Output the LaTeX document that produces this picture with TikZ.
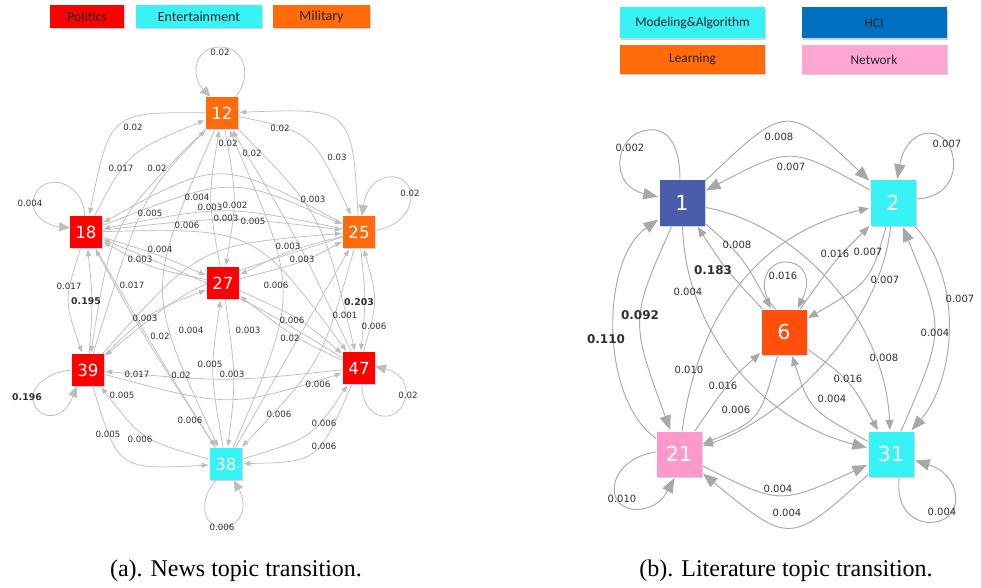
\documentclass[tikz,border=0pt]{standalone}
\usepackage{fontspec}
\setmainfont{Liberation Serif}
\newfontfamily\numfont{DejaVu Sans}
\newfontfamily\keyfont{Carlito}
\usetikzlibrary{arrows.meta,shadows}
\pgfdeclarelayer{links}
\pgfsetlayers{links,main}
\definecolor{polred}{HTML}{FF0000}
\definecolor{entcyan}{HTML}{38F3F6}
\definecolor{milorange}{HTML}{FF6A0A}
\definecolor{hciblue}{HTML}{0070C0}
\definecolor{slateblue}{HTML}{4A5DAD}
\definecolor{sixorange}{HTML}{FF4F0A}
\definecolor{netpink}{HTML}{FFA6D5}
\definecolor{pinknode}{HTML}{FF99CC}
\definecolor{linkA}{HTML}{BDBDBD}
\definecolor{linkB}{HTML}{A8A8A8}
\definecolor{numtext}{HTML}{2F2F2F}
\definecolor{keytext}{HTML}{262626}
\definecolor{shade}{HTML}{CACCE8}
\begin{document}
\begin{tikzpicture}[x=0.75pt,y=-0.75pt,
  key/.style={rectangle,inner sep=0pt,minimum height=17.25pt,
    font=\keyfont\fontsize{10.5}{12}\selectfont,text=keytext,
    drop shadow={shadow xshift=1pt,shadow yshift=-1pt,fill=shade,opacity=0.9}},
  keyb/.style={key,minimum height=23.25pt,minimum width=108.75pt,
    font=\keyfont\fontsize{10}{12}\selectfont},
  topa/.style={rectangle,inner sep=0pt,minimum size=24pt,
    font=\numfont\fontsize{12.5}{14}\selectfont,text=white,
    drop shadow={shadow xshift=0.8pt,shadow yshift=-0.8pt,fill=shade,opacity=0.9}},
  topb/.style={topa,minimum size=33.75pt,font=\numfont\fontsize{15.5}{17}\selectfont},
  lnka/.style={draw=linkA,line width=0.55pt,-{Triangle[length=5pt,width=3.8pt]},shorten >=1pt},
  loopa/.style={draw=linkA,line width=0.55pt,-{Triangle[length=8pt,width=7pt]}},
  lnkb/.style={draw=linkB,line width=0.7pt,-{Triangle[length=7.5pt,width=6pt]},shorten >=1pt},
  bigb/.style={lnkb,-{Triangle[length=11pt,width=8.5pt]}},
  wa/.style={font=\numfont\fontsize{6.5}{7}\selectfont,text=numtext,inner sep=0pt},
  wab/.style={wa,font=\numfont\bfseries\fontsize{7}{8}\selectfont},
  wb/.style={wa,font=\numfont\fontsize{7.5}{9}\selectfont},
  wbb/.style={wa,font=\numfont\bfseries\fontsize{9}{10}\selectfont},
  caption/.style={font=\fontsize{18}{21}\selectfont,inner sep=0pt}]
\useasboundingbox (0,0) rectangle (981,588);

% ---------- legends ----------
\node[key,fill=polred,minimum width=55.5pt] (kpol) at (87,16.5) {Politics};
\node[key,fill=entcyan,minimum width=94.5pt] (kent) at (199,16.5) {Entertainment};
\node[key,fill=milorange,minimum width=72.75pt] (kmil) at (321.5,16.5) {Military};
\node[keyb,fill=entcyan] (kmod) at (692.5,23) {Modeling\&Algorithm};
\node[keyb,fill=hciblue] (khci) at (874,23) {HCI};
\node[keyb,fill=milorange,minimum height=21.75pt] (klea) at (692.5,59.5) {Learning};
\node[keyb,fill=netpink,minimum height=21.75pt] (knet) at (874,59.5) {Network};

% ---------- news topics ----------
\node[topa,fill=milorange] (A12) at (222,113) {12};
\node[topa,fill=polred] (A18) at (86,232) {18};
\node[topa,fill=milorange] (A25) at (359,232) {25};
\node[topa,fill=polred] (A27) at (223,283) {27};
\node[topa,fill=polred] (A39) at (88,370) {39};
\node[topa,fill=polred] (A47) at (359,368) {47};
\node[topa,fill=entcyan] (A38) at (226,464) {38};

% ---------- literature topics ----------
\node[topb,fill=slateblue] (B1) at (682,203) {1};
\node[topb,fill=entcyan] (B2) at (893,203) {2};
\node[topb,fill=sixorange] (B6) at (784,332) {6};
\node[topb,fill=pinknode] (B21) at (679,454) {21};
\node[topb,fill=entcyan] (B31) at (891,454) {31};

\begin{pgfonlayer}{links}
% news transitions
\draw[lnka] (A12) .. controls (110,112) .. (A18);
\draw[lnka] (A18) .. controls (128,152) .. (A12);
\draw[lnka] (A12) .. controls (112,222) .. (A39);
\draw[lnka] (A39) .. controls (142,196) .. (A12);
\draw[lnka] (A12) .. controls (312,132) .. (A25);
\draw[lnka] (A25) .. controls (352,108) .. (A12);
\draw[lnka] (A12) .. controls (237,198) .. (A27);
\draw[lnka] (A27) .. controls (208,198) .. (A12);
\draw[lnka] (A12) .. controls (145,290) .. (A38);
\draw[lnka] (A38) .. controls (300,292) .. (A12);
\draw[lnka] (A47) .. controls (296,236) .. (A12);
\draw[lnka] (A12) .. controls (322,214) .. (A47);
\draw[lnka] (A25) .. controls (220,158) .. (A18);
\draw[lnka] (A18) .. controls (232,175) .. (A25);
\draw[lnka] (A25) .. controls (225,205) .. (A18);
\draw[lnka] (A18) .. controls (228,216) .. (A25);
\draw[lnka] (A18) .. controls (160,255) .. (A27);
\draw[lnka] (A27) .. controls (150,268) .. (A18);
\draw[lnka] (A18) .. controls (255,228) .. (A47);
\draw[lnka] (A47) .. controls (248,300) .. (A18);
\draw[lnka] (A18) .. controls (64,300) .. (A39);
\draw[lnka] (A39) .. controls (93,300) .. (A18);
\draw[lnka] (A38) .. controls (140,330) .. (A18);
\draw[lnka] (A18) .. controls (162,362) .. (A38);
\draw[lnka] (A25) .. controls (290,250) .. (A27);
\draw[lnka] (A27) .. controls (305,262) .. (A25);
\draw[lnka] (A25) .. controls (190,285) .. (A39);
\draw[lnka] (A39) .. controls (150,312) .. (A27);
\draw[lnka] (A39) .. controls (200,245) .. (A25);
\draw[lnka] (A27) .. controls (300,318) .. (A47);
\draw[lnka] (A47) .. controls (295,338) .. (A27);
\draw[lnka] (A27) .. controls (236,378) .. (A38);
\draw[lnka] (A38) .. controls (210,372) .. (A27);
\draw[lnka] (A39) .. controls (230,408) .. (A47);
\draw[lnka] (A47) .. controls (228,382) .. (A39);
\draw[lnka] (A38) .. controls (300,335) .. (A25);
\draw[lnka] (A25) .. controls (322,362) .. (A38);
\draw[lnka] (A47) .. controls (378,300) .. (A25);
\draw[lnka] (A25) .. controls (366,300) .. (A47);
\draw[lnka] (A38) .. controls (312,438) .. (A47);
\draw[lnka] (A47) .. controls (318,462) .. (A38);
\draw[lnka] (A39) .. controls (118,470) .. (A38);
\draw[lnka] (A38) .. controls (142,440) .. (A39);
% news self transitions
\draw[loopa] (A12.50) .. controls (252,78) and (246,47) .. (220,47)
  .. controls (194,47) and (190,76) .. (A12.125);
\draw[loopa] (A18.95) .. controls (84,180) and (40,170) .. (33,200)
  .. controls (30,215) and (48,226) .. (A18.165);
\draw[loopa] (A25.5) .. controls (420,222) and (418,180) .. (395,177)
  .. controls (378,175) and (366,188) .. (A25.80);
\draw[loopa] (A39.180) .. controls (45,372) and (30,390) .. (33,400)
  .. controls (36,418) and (62,425) .. (A39.235);
\draw[loopa] (A47.-80) .. controls (362,410) and (378,420) .. (392,415)
  .. controls (412,405) and (412,375) .. (A47.5);
\draw[loopa] (A38.-120) .. controls (200,495) and (200,527) .. (222,527)
  .. controls (242,527) and (248,505) .. (A38.-65);

% literature transitions
\draw[bigb] (B1) .. controls (787,103) .. (B2);
\draw[bigb] (B2) .. controls (791,146) .. (B1);
\draw[lnkb] (B1) .. controls (800,225) and (885,320) .. (B31);
\draw[bigb] (B1) .. controls (685,330) and (760,420) .. (B31);
\draw[lnkb] (B1) .. controls (742,256) .. (B6);
\draw[lnkb] (B6) .. controls (726,270) .. (B1);
\draw[bigb] (B1) .. controls (630,320) .. (B21);
\draw[bigb] (B21) .. controls (600,400) and (600,260) .. (B1);
\draw[lnkb] (B21) .. controls (700,300) and (770,230) .. (B2);
\draw[lnkb] (B2) .. controls (880,330) and (780,420) .. (B21);
\draw[lnkb] (B6) .. controls (835,260) .. (B2);
\draw[lnkb] (B2) .. controls (870,282) .. (B6);
\draw[bigb] (B2) .. controls (965,280) and (955,380) .. (B31);
\draw[bigb] (B31) .. controls (945,330) .. (B2);
\draw[lnkb] (B6) .. controls (850,380) .. (B31);
\draw[lnkb] (B31) .. controls (810,410) .. (B6);
\draw[lnkb] (B21) .. controls (730,380) .. (B6);
\draw[lnkb] (B6) .. controls (760,420) .. (B21);
\draw[bigb] (B21) .. controls (780,505) .. (B31);
\draw[bigb] (B31) .. controls (790,545) .. (B21);
% literature self transitions
\draw[bigb] (B1.95) .. controls (680,140) and (665,128) .. (648,130)
  .. controls (620,133) and (612,168) .. (628,185)
  .. controls (635,192) and (645,194) .. (B1.165);
\draw[bigb] (B2.10) .. controls (955,198) and (962,160) .. (945,140)
  .. controls (930,125) and (905,135) .. (B2.80);
\draw[lnkb] (B6.110) .. controls (755,290) and (765,262) .. (785,262)
  .. controls (805,262) and (812,280) .. (B6.60);
\draw[bigb] (B21.175) .. controls (630,455) and (610,475) .. (615,495)
  .. controls (620,515) and (655,515) .. (B21.-100);
\draw[bigb] (B31.-70) .. controls (895,510) and (915,525) .. (935,522)
  .. controls (965,518) and (962,475) .. (B31.-15);
\end{pgfonlayer}

% ---------- news probabilities ----------
\node[wa] (va01) at (220,52) {0.02};
\node[wa] (va02) at (133,127) {0.02};
\node[wa] (va03) at (121,168) {0.017};
\node[wa] (va04) at (157,168) {0.02};
\node[wa] (va05) at (30,203) {0.004};
\node[wa] (va06) at (197,197) {0.004};
\node[wa] (va07) at (210,207) {0.003};
\node[wa] (va08) at (235,205) {0.002};
\node[wa] (va09) at (226,218) {0.003};
\node[wa] (va10) at (150,213) {0.005};
\node[wa] (va11) at (187,225) {0.006};
\node[wa] (va12) at (160,249) {0.004};
\node[wa] (va13) at (140,259) {0.003};
\node[wa] (va14) at (69,286) {0.017};
\node[wab] (va15) at (86,301) {0.195};
\node[wa] (va16) at (132,285) {0.017};
\node[wa] (va17) at (228,143) {0.02};
\node[wa] (va18) at (252,153) {0.02};
\node[wa] (va19) at (280,128) {0.02};
\node[wa] (va20) at (337,157) {0.03};
\node[wa] (va21) at (313,199) {0.003};
\node[wa] (va22) at (410,193) {0.02};
\node[wa] (va23) at (253,221) {0.005};
\node[wa] (va24) at (288,246) {0.003};
\node[wa] (va25) at (302,259) {0.003};
\node[wa] (va26) at (276,285) {0.006};
\node[wa] (va27) at (145,318) {0.003};
\node[wa] (va28) at (160,336) {0.02};
\node[wa] (va29) at (191,330) {0.004};
\node[wa] (va30) at (248,330) {0.003};
\node[wa] (va31) at (292,320) {0.006};
\node[wa] (va32) at (290,338) {0.02};
\node[wab] (va33) at (359,302) {0.203};
\node[wa] (va34) at (345,315) {0.001};
\node[wa] (va35) at (374,326) {0.006};
\node[wa] (va36) at (210,364) {0.005};
\node[wa] (va37) at (232,374) {0.003};
\node[wa] (va38) at (137,374) {0.017};
\node[wa] (va39) at (181,375) {0.02};
\node[wa] (va40) at (318,384) {0.006};
\node[wab] (va41) at (27,397) {0.196};
\node[wa] (va42) at (122,395) {0.005};
\node[wa] (va43) at (408,395) {0.02};
\node[wa] (va44) at (190,420) {0.006};
\node[wa] (va45) at (279,414) {0.006};
\node[wa] (va46) at (324,423) {0.006};
\node[wa] (va47) at (108,434) {0.005};
\node[wa] (va48) at (140,439) {0.006};
\node[wa] (va49) at (324,446) {0.006};
\node[wa] (va50) at (222,527) {0.006};

% ---------- literature probabilities ----------
\node[wb] (vb01) at (630,148) {0.002};
\node[wb] (vb02) at (779,137) {0.008};
\node[wb] (vb03) at (791,167) {0.007};
\node[wb] (vb04) at (947,144) {0.007};
\node[wb] (vb05) at (737,245) {0.008};
\node[wbb] (vb06) at (713,270) {0.183};
\node[wb] (vb07) at (783,276) {0.016};
\node[wb] (vb08) at (835,254) {0.016};
\node[wb] (vb09) at (868,252) {0.007};
\node[wb] (vb10) at (885,280) {0.007};
\node[wb] (vb11) at (688,292) {0.004};
\node[wbb] (vb12) at (640,315) {0.092};
\node[wbb] (vb13) at (606,339) {0.110};
\node[wb] (vb14) at (960,299) {0.007};
\node[wb] (vb15) at (935,333) {0.004};
\node[wb] (vb16) at (884,358) {0.008};
\node[wb] (vb17) at (689,370) {0.010};
\node[wb] (vb18) at (723,386) {0.016};
\node[wb] (vb19) at (736,410) {0.006};
\node[wb] (vb20) at (848,379) {0.016};
\node[wb] (vb21) at (832,399) {0.004};
\node[wb] (vb22) at (622,499) {0.010};
\node[wb] (vb23) at (778,489) {0.004};
\node[wb] (vb24) at (787,513) {0.004};
\node[wb] (vb25) at (942,512) {0.004};

% ---------- captions ----------
\node[caption] (capa) at (236,571) {(a). News topic transition.};
\node[caption] (capb) at (786,571) {(b). Literature topic transition.};
\end{tikzpicture}
\end{document}
